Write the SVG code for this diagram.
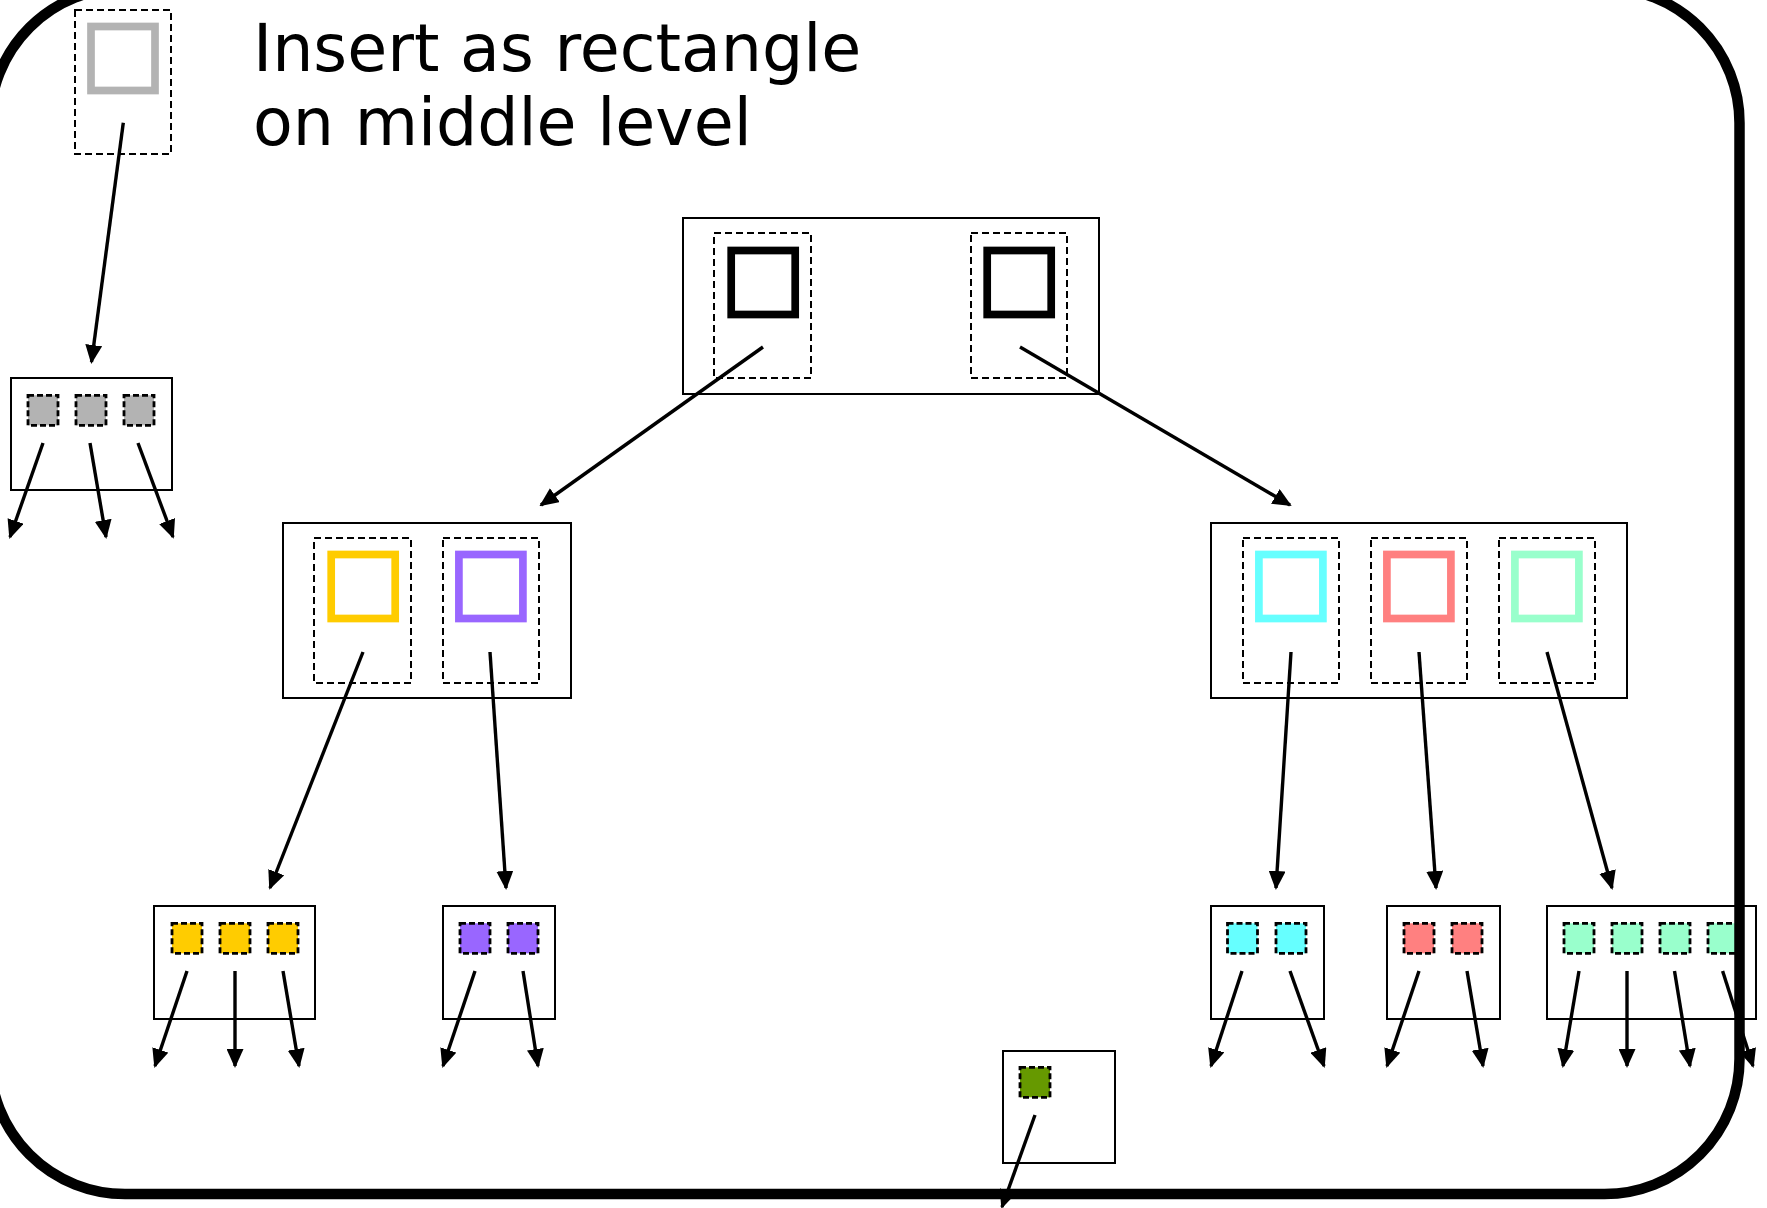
<svg xmlns="http://www.w3.org/2000/svg" width="1767" height="1208" viewBox="0 0 1767 1208">
  <defs>
    <marker id="arrow" markerUnits="userSpaceOnUse" markerWidth="19" markerHeight="17" refX="17" refY="8.5" orient="auto">
      <path d="M0,0 L19,8.5 L0,17 z" fill="#000"/>
    </marker>
    <style>
      .box { fill: #fff; stroke: #000; stroke-width: 2; }
      .cell { fill: none; stroke: #000; stroke-width: 2; stroke-dasharray: 7 4; }
      .key { fill: none; stroke-width: 7.7; }
      .entry { stroke: #000; stroke-width: 2.8; stroke-dasharray: 6 3; }
      .conn line { stroke: #000; stroke-width: 3.4; marker-end: url(#arrow); }
      .label { font-family: "DejaVu Sans", "Liberation Sans", sans-serif; font-size: 65px; fill: #000; }
      .frame { fill: none; stroke: #000; stroke-width: 10.5; }
    </style>
  </defs>

  <rect width="1767" height="1208" fill="#fff"/>

  <!-- rectangle being inserted -->
  <g id="new-rect">
    <rect class="cell" x="75" y="10" width="96" height="144"/>
    <rect class="key" x="91" y="26.5" width="64" height="64" stroke="#b3b3b3"/>
  </g>
  <text class="label" x="253" y="71">Insert as rectangle</text>
  <text class="label" x="253" y="145">on middle level</text>

  <!-- root node -->
  <g id="root">
    <rect class="box" x="683" y="218" width="416" height="176"/>
    <rect class="cell" x="714" y="233" width="97" height="145"/>
    <rect class="cell" x="971" y="233" width="96" height="145"/>
    <rect class="key" x="731.2" y="250.5" width="64" height="64" stroke="#000"/>
    <rect class="key" x="987.2" y="250.5" width="64" height="64" stroke="#000"/>
  </g>

  <!-- middle level -->
  <g id="mid-left">
    <rect class="box" x="283" y="523" width="288" height="175"/>
    <rect class="cell" x="314" y="538" width="97" height="145"/>
    <rect class="cell" x="443" y="538" width="96" height="145"/>
    <rect class="key" x="331.2" y="554.5" width="64" height="64" stroke="#ffcc00"/>
    <rect class="key" x="458.9" y="554.5" width="64" height="64" stroke="#9966ff"/>
  </g>
  <g id="mid-right">
    <rect class="box" x="1211" y="523" width="416" height="175"/>
    <rect class="cell" x="1243" y="538" width="96" height="145"/>
    <rect class="cell" x="1371" y="538" width="96" height="145"/>
    <rect class="cell" x="1499" y="538" width="96" height="145"/>
    <rect class="key" x="1258.9" y="554.5" width="64" height="64" stroke="#66ffff"/>
    <rect class="key" x="1386.9" y="554.5" width="64" height="64" stroke="#ff8080"/>
    <rect class="key" x="1514.9" y="554.5" width="64" height="64" stroke="#99ffcc"/>
  </g>

  <!-- leaf level -->
  <g id="leaf-gray">
    <rect class="box" x="11" y="378" width="161" height="112"/>
    <rect class="entry" x="28" y="395.3" width="30" height="30" fill="#b3b3b3"/>
    <rect class="entry" x="76" y="395.3" width="30" height="30" fill="#b3b3b3"/>
    <rect class="entry" x="124" y="395.3" width="30" height="30" fill="#b3b3b3"/>
  </g>
  <g id="leaf-yellow">
    <rect class="box" x="154" y="906" width="161" height="113"/>
    <rect class="entry" x="172" y="923.3" width="30" height="30" fill="#ffcc00"/>
    <rect class="entry" x="220" y="923.3" width="30" height="30" fill="#ffcc00"/>
    <rect class="entry" x="268" y="923.3" width="30" height="30" fill="#ffcc00"/>
  </g>
  <g id="leaf-purple">
    <rect class="box" x="443" y="906" width="112" height="113"/>
    <rect class="entry" x="460" y="923.3" width="30" height="30" fill="#9966ff"/>
    <rect class="entry" x="508" y="923.3" width="30" height="30" fill="#9966ff"/>
  </g>
  <g id="leaf-cyan">
    <rect class="box" x="1211" y="906" width="113" height="113"/>
    <rect class="entry" x="1227.5" y="923.3" width="30" height="30" fill="#66ffff"/>
    <rect class="entry" x="1276" y="923.3" width="30" height="30" fill="#66ffff"/>
  </g>
  <g id="leaf-red">
    <rect class="box" x="1387" y="906" width="113" height="113"/>
    <rect class="entry" x="1404" y="923.3" width="30" height="30" fill="#ff8080"/>
    <rect class="entry" x="1452" y="923.3" width="30" height="30" fill="#ff8080"/>
  </g>
  <g id="leaf-green">
    <rect class="box" x="1547" y="906" width="209" height="113"/>
    <rect class="entry" x="1564" y="923.3" width="30" height="30" fill="#99ffcc"/>
    <rect class="entry" x="1612" y="923.3" width="30" height="30" fill="#99ffcc"/>
    <rect class="entry" x="1660" y="923.3" width="30" height="30" fill="#99ffcc"/>
    <rect class="entry" x="1708" y="923.3" width="30" height="30" fill="#99ffcc"/>
  </g>
  <g id="leaf-olive">
    <rect class="box" x="1003" y="1051" width="112" height="112"/>
    <rect class="entry" x="1020" y="1067.3" width="30" height="30" fill="#669900"/>
  </g>

  <!-- pointers -->
  <g id="connectors" class="conn">
    <line x1="123.3" y1="122.7" x2="91.5" y2="362"/>
    <line x1="43" y1="443" x2="10" y2="537"/>
    <line x1="90" y1="443" x2="106" y2="537"/>
    <line x1="138" y1="443" x2="173" y2="537"/>

    <line x1="763" y1="347" x2="541" y2="505"/>
    <line x1="1020" y1="347" x2="1290" y2="505"/>

    <line x1="363" y1="652" x2="270" y2="888"/>
    <line x1="490" y1="652" x2="506" y2="888"/>
    <line x1="1291" y1="652" x2="1276" y2="888"/>
    <line x1="1419" y1="652" x2="1436" y2="888"/>
    <line x1="1547" y1="652" x2="1612" y2="888"/>

    <line x1="187" y1="971" x2="155" y2="1066"/>
    <line x1="235" y1="971" x2="235" y2="1066"/>
    <line x1="283" y1="971" x2="299" y2="1066"/>
    <line x1="475" y1="971" x2="443" y2="1066"/>
    <line x1="523" y1="971" x2="538" y2="1066"/>
    <line x1="1242" y1="971" x2="1211" y2="1066"/>
    <line x1="1290" y1="971" x2="1324" y2="1066"/>
    <line x1="1419" y1="971" x2="1387" y2="1066"/>
    <line x1="1467" y1="971" x2="1483" y2="1066"/>
    <line x1="1579" y1="971" x2="1563" y2="1066"/>
    <line x1="1627" y1="971" x2="1627" y2="1066"/>
    <line x1="1674.5" y1="971" x2="1690" y2="1066"/>
    <line x1="1722.6" y1="971" x2="1753" y2="1066"/>

    <line x1="1035" y1="1115" x2="1002" y2="1207"/>
  </g>

  <!-- surrounding rounded frame -->
  <rect class="frame" x="-10" y="-12" width="1749.5" height="1206" rx="135" ry="135"/>
</svg>
